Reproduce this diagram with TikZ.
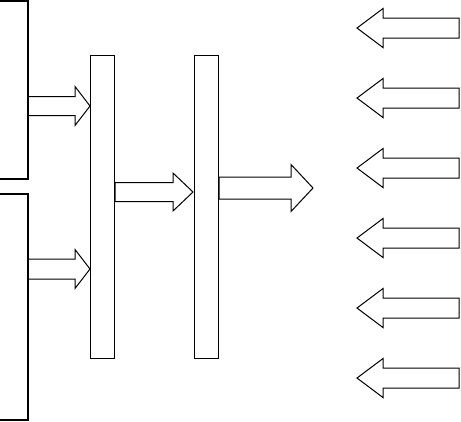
\documentclass[tikz,border=0pt]{standalone}
\usepackage{tikz}
\usetikzlibrary{positioning}

\begin{document}
\begin{tikzpicture}[x=1pt,y=-1pt,line width=1pt,column/.style={draw,rectangle,inner sep=0pt,minimum width=24pt,minimum height=303pt,anchor=north west},bracket/.style={line width=1.1pt},pics/blockarrow/.style n args={4}{code={\draw[line join=miter] (0,-#3) -- ({#1-#2},-#3) -- ({#1-#2},-#4) -- (#1,0) -- ({#1-#2},#4) -- ({#1-#2},#3) -- (0,#3) -- cycle;}}]
\useasboundingbox (0,0) rectangle (461,421);
% input groups
\draw[bracket] (0,1) -- (28,1) -- (28,179) -- (0,179);
\draw[bracket] (0,194) -- (28,194) -- (28,420) -- (0,420);
% the two columns
\node[column] (col1) at (90,55){};
\node[column] (col2) at (194,55){};
% arrows into and out of the columns
\pic (in1) at (28,106) {blockarrow={62}{15}{9.5}{19.5}};
\pic (in2) at (28,269) {blockarrow={62}{15}{10}{19.5}};
\pic (mid) at (115,192) {blockarrow={78}{20}{9.5}{19}};
\pic (out) at (219,188) {blockarrow={94}{22}{11}{23.5}};
% arrows coming from the right
\foreach \i in {0,...,5}
  \pic[xscale=-1] (back\i) at (459,28+70*\i) {blockarrow={102}{26}{10}{19.5}};
\end{tikzpicture}
\end{document}
